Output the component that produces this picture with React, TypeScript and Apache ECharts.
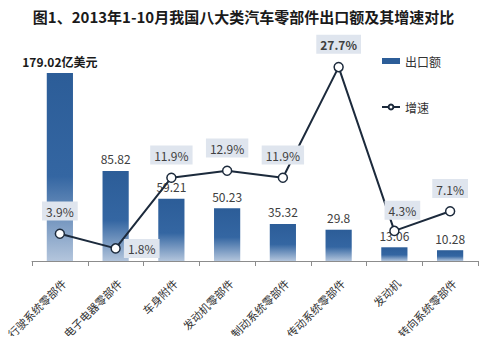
import React, { useEffect, useRef } from "react";
import * as echarts from "echarts";

const categories = [
  "行驶系统零部件",
  "电子电器零部件",
  "车身附件",
  "发动机零部件",
  "制动系统零部件",
  "传动系统零部件",
  "发动机",
  "转向系统零部件",
];
const exportValues = [179.02, 85.82, 59.21, 50.23, 35.32, 29.8, 13.06, 10.28];
const growthValues = [3.9, 1.8, 11.9, 12.9, 11.9, 27.7, 4.3, 7.1];
const title = "图1、2013年1-10月我国八大类汽车零部件出口额及其增速对比";
const font = "'Noto Sans CJK SC', 'Microsoft YaHei', sans-serif";

export default function App() {
  const ref = useRef<HTMLDivElement>(null);
  useEffect(() => {
    if (!ref.current) return;
    const chart = echarts.init(ref.current, null, { renderer: "svg" });
    const barGrad = new echarts.graphic.LinearGradient(0, 0, 0, 1, [
      { offset: 0, color: "#2c5d98" },
      { offset: 0.55, color: "#3466a2" },
      { offset: 1, color: "#b3c5dc" },
    ]);
    const lineLabelPos: any[] = [
      { position: "top", distance: 8 },
      { position: "right", distance: 3 },
      { position: "top", distance: 8 },
      { position: "top", distance: 8 },
      { position: "top", distance: 8 },
      { position: "top", distance: 8, fontWeight: "bold" },
      { position: "top", distance: 6, offset: [8, 0] },
      { position: "top", distance: 8 },
    ];
    chart.setOption({
      animation: false,
      textStyle: { fontFamily: font },
      title: {
        text: title,
        left: "center",
        top: 4,
        textStyle: { fontSize: 15, fontWeight: "bold", color: "#1a1a1a", fontFamily: font },
      },
      legend: {
        orient: "vertical",
        left: 376,
        top: 50,
        itemGap: 34,
        itemWidth: 18,
        itemHeight: 6,
        textStyle: { fontSize: 12, color: "#333", fontFamily: font },
        data: [
          { name: "出口额", icon: "rect", itemStyle: { color: "#2c5d98" } },
          { name: "增速" },
        ],
      },
      grid: { left: 32, right: 9, top: 51, bottom: 83 },
      xAxis: {
        type: "category",
        data: categories,
        axisLine: { lineStyle: { color: "#8c8c8c" } },
        axisTick: { show: true, length: 5, alignWithLabel: false, lineStyle: { color: "#8c8c8c" } },
        axisLabel: {
          rotate: 45,
          fontSize: 11,
          color: "#333",
          interval: 0,
          margin: 16,
          verticalAlign: "top",
          fontFamily: font,
        },
      },
      yAxis: [
        { type: "value", min: 0, max: 200, show: false, splitLine: { show: false } },
        { type: "value", min: 0, max: 30, show: false, splitLine: { show: false } },
      ],
      series: [
        {
          name: "出口额",
          type: "bar",
          barWidth: "47%",
          data: exportValues.map((v, i) => ({
            value: v,
            label:
              i === 0
                ? { formatter: "{c}亿美元", fontWeight: "bold", color: "#1a1a1a" }
                : undefined,
          })),
          itemStyle: { color: barGrad },
          label: {
            show: true,
            position: "top",
            distance: 6,
            fontSize: 12,
            color: "#404040",
            fontFamily: font,
          },
        },
        {
          name: "增速",
          type: "line",
          yAxisIndex: 1,
          data: growthValues.map((v, i) => ({ value: v, label: lineLabelPos[i] })),
          lineStyle: { color: "#1c2a3c", width: 2 },
          itemStyle: { color: "#fff", borderColor: "#1c2a3c", borderWidth: 1.5 },
          symbol: "circle",
          symbolSize: 9,
          label: {
            show: true,
            formatter: "{c}%",
            fontSize: 12,
            color: "#404040",
            backgroundColor: "#dfe5ee",
            padding: [4, 4, 3, 4],
            fontFamily: font,
          },
          z: 5,
        },
      ],
    });
    return () => chart.dispose();
  }, []);
  return <div ref={ref} style={{ width: 487, height: 344, margin: -8 }} />;
}
